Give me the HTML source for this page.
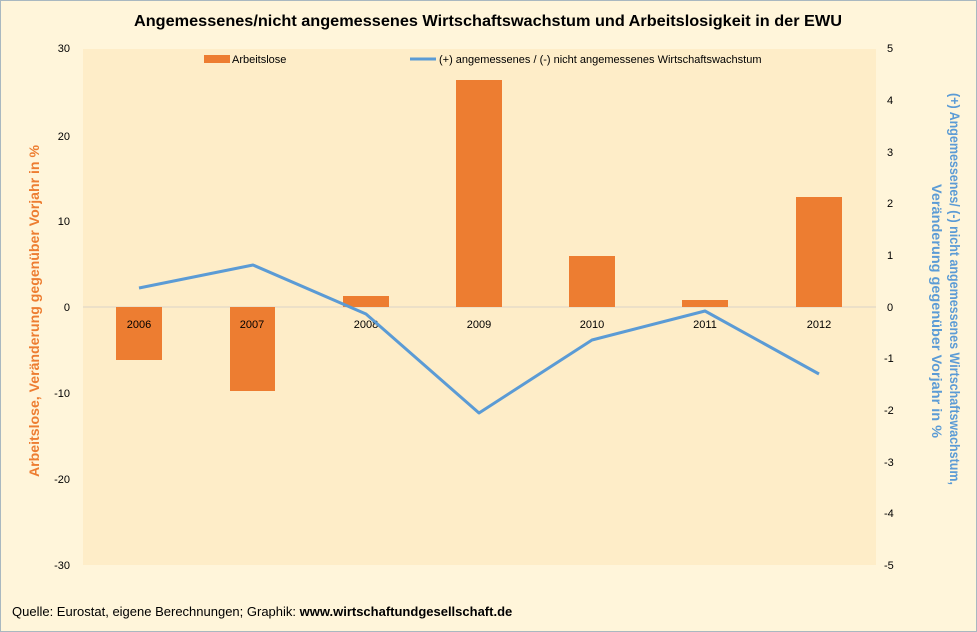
<!DOCTYPE html>
<html><head><meta charset="utf-8"><style>
body{margin:0;background:#fff}
svg{display:block;font-family:"Liberation Sans",sans-serif}
</style></head><body>
<svg width="977" height="632" viewBox="0 0 977 632">
<rect x="0.5" y="0.5" width="976" height="631" fill="#FFF5DA" stroke="#A9B8C0"/>
<rect x="83" y="49" width="793" height="516" fill="#FEEDC8"/>
<text x="488" y="26" text-anchor="middle" font-size="16" font-weight="bold" fill="#000" textLength="708" lengthAdjust="spacingAndGlyphs">Angemessenes/nicht angemessenes Wirtschaftswachstum und Arbeitslosigkeit in  der EWU</text>
<line x1="83" y1="307" x2="876" y2="307" stroke="#D9D4C8" stroke-width="1"/>
<g fill="#ED7D31">
<rect x="116" y="307" width="46" height="53"/>
<rect x="230" y="307" width="45" height="84"/>
<rect x="343" y="296" width="46" height="11"/>
<rect x="456" y="80" width="46" height="227"/>
<rect x="569" y="256" width="46" height="51"/>
<rect x="682" y="300" width="46" height="7"/>
<rect x="796" y="197" width="46" height="110"/>
</g>
<g font-size="11" text-anchor="middle" fill="#000">
<text x="139" y="328">2006</text><text x="252" y="328">2007</text><text x="366" y="328">2008</text>
<text x="479" y="328">2009</text><text x="592" y="328">2010</text><text x="705" y="328">2011</text><text x="819" y="328">2012</text>
</g>
<polyline points="139,288 253,265 366,314 479,413 592,340 705,311 819,374" fill="none" stroke="#5B9BD5" stroke-width="3" stroke-linejoin="round"/>
<g font-size="11" text-anchor="end" fill="#000">
<text x="70" y="52">30</text><text x="70" y="140">20</text><text x="70" y="225">10</text><text x="70" y="311">0</text>
<text x="70" y="397">-10</text><text x="70" y="483">-20</text><text x="70" y="569">-30</text>
</g>
<g font-size="11" text-anchor="start" fill="#000">
<text x="887" y="52">5</text><text x="887" y="104">4</text><text x="887" y="156">3</text><text x="887" y="207">2</text>
<text x="887" y="259">1</text><text x="887" y="311">0</text><text x="884" y="362">-1</text><text x="884" y="414">-2</text>
<text x="884" y="466">-3</text><text x="884" y="517">-4</text><text x="884" y="569">-5</text>
</g>
<rect x="204" y="55" width="26" height="8" fill="#ED7D31"/>
<text x="232" y="63" font-size="11">Arbeitslose</text>
<line x1="410" y1="59" x2="436" y2="59" stroke="#5B9BD5" stroke-width="3"/>
<text x="439" y="63" font-size="11">(+) angemessenes / (-) nicht angemessenes Wirtschaftswachstum</text>
<text transform="translate(39,311) rotate(-90)" text-anchor="middle" font-size="14" font-weight="bold" fill="#ED7D31" textLength="332" lengthAdjust="spacingAndGlyphs">Arbeitslose, Veränderung gegenüber Vorjahr in %</text>
<text transform="translate(950,289) rotate(90)" text-anchor="middle" font-size="14" font-weight="bold" fill="#5B9BD5" textLength="392" lengthAdjust="spacingAndGlyphs">(+) Angemessenes/ (-) nicht angemessenes Wirtschaftswachstum,</text>
<text transform="translate(932,311) rotate(90)" text-anchor="middle" font-size="14" font-weight="bold" fill="#5B9BD5" textLength="254" lengthAdjust="spacingAndGlyphs">Veränderung gegenüber Vorjahr in %</text>
<text x="12" y="616" font-size="13" fill="#000">Quelle: Eurostat, eigene Berechnungen; Graphik: <tspan font-weight="bold">www.wirtschaftundgesellschaft.de</tspan></text>
</svg>
</body></html>
